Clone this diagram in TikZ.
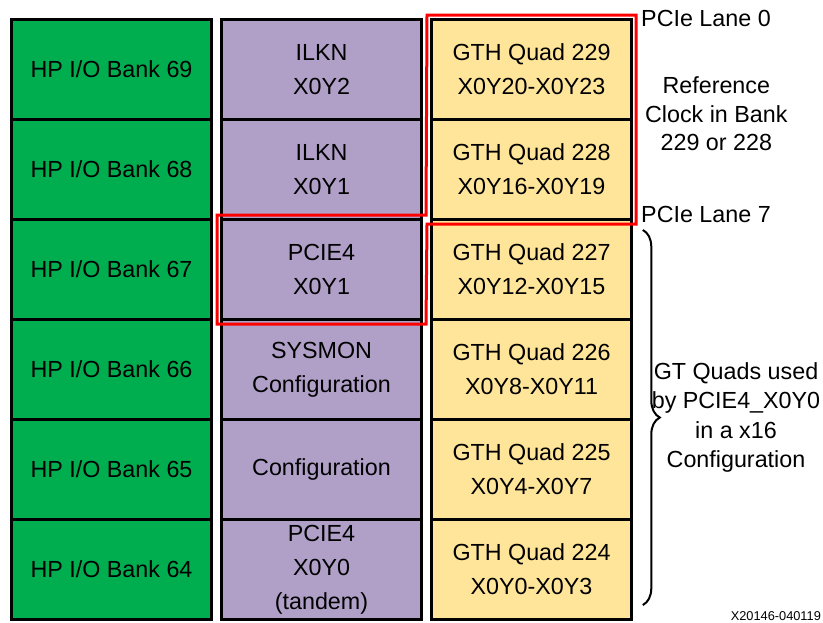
\documentclass[tikz,border=0pt]{standalone}
\usepackage{fontspec}
\setmainfont{Liberation Sans}
\usepackage{tikz}
\usetikzlibrary{positioning,calc,decorations.pathreplacing}
\definecolor{bankgreen}{RGB}{0,173,79}
\definecolor{blkpurple}{RGB}{176,160,200}
\definecolor{quadyellow}{RGB}{255,229,153}
\tikzset{
  cell/.style   ={draw,line width=1.1pt,minimum width=100pt,minimum height=50pt,
                  inner sep=0pt,outer sep=0pt,align=center,
                  font=\fontsize{11.65}{17}\selectfont},
  bank/.style   ={cell,fill=bankgreen},
  blk/.style    ={cell,fill=blkpurple},
  quad/.style   ={cell,fill=quadyellow},
  redline/.style={draw=red,line width=1.5pt},
  lbl/.style    ={font=\fontsize{11.65}{14.3}\selectfont,inner sep=0pt,align=center},
  tag/.style    ={font=\fontsize{6.4}{8}\selectfont,inner sep=0pt},
}

\begin{document}
\begin{tikzpicture}[x=0.5pt,y=-0.5pt,node distance=0pt]
  \useasboundingbox (0,0) rectangle (823,622);
  % I/O banks
  \node[bank] (b69) at (111.5,69.5) {HP I/O Bank 69};
  \node[bank, below=of b69] (b68) {HP I/O Bank 68};
  \node[bank, below=of b68] (b67) {HP I/O Bank 67};
  \node[bank, below=of b67] (b66) {HP I/O Bank 66};
  \node[bank, below=of b66] (b65) {HP I/O Bank 65};
  \node[bank, below=of b65] (b64) {HP I/O Bank 64};
  % hard blocks
  \node[blk, right=5pt of b69] (ilkn2)  {ILKN\\X0Y2};
  \node[blk, below=of ilkn2]   (ilkn1)  {ILKN\\X0Y1};
  \node[blk, below=of ilkn1]   (pcie1)  {PCIE4\\X0Y1};
  \node[blk, below=of pcie1]   (sysmon) {SYSMON\\Configuration};
  \node[blk, below=of sysmon]  (cfg)    {Configuration};
  \node[blk, below=of cfg]     (pcie0)  {PCIE4\\X0Y0\\(tandem)};
  % GTH quads
  \node[quad, right=5pt of ilkn2] (q229) {GTH Quad 229\\X0Y20-X0Y23};
  \node[quad, below=of q229] (q228) {GTH Quad 228\\X0Y16-X0Y19};
  \node[quad, below=of q228] (q227) {GTH Quad 227\\X0Y12-X0Y15};
  \node[quad, below=of q227] (q226) {GTH Quad 226\\X0Y8-X0Y11};
  \node[quad, below=of q226] (q225) {GTH Quad 225\\X0Y4-X0Y7};
  \node[quad, below=of q225] (q224) {GTH Quad 224\\X0Y0-X0Y3};
  % red outline
  \draw[redline] ($(q229.north west)+(-4.5,-4.5)$) -- ($(q229.north east)+(4.5,-4.5)$)
        -- ($(q228.south east)+(4.5,4.5)$) -- ($(q228.south west)+(-4.5,4.5)$)
        -- ($(pcie1.south east)+(4.5,4.5)$) -- ($(pcie1.south west)+(-4.5,4.5)$)
        -- ($(pcie1.north west)+(-4.5,-4.5)$) -- ($(pcie1.north east)+(4.5,-4.5)$)
        -- cycle;
  % labels
  \node[lbl, anchor=base west] (lane0) at ($(q229.north east)+(9.3,6.5)$) {PCIe Lane 0};
  \node[lbl, anchor=base west] (lane7) at ($(q228.south east)+(9.3,2.5)$) {PCIe Lane 7};
  \node[lbl] (refclk) at ($(q229.south east)+(84.8,-5.5)$) {Reference\\Clock in Bank\\229 or 228};
  \draw[decorate,decoration={brace,amplitude=8.5pt},line width=1pt]
        ($(q227.north east)+(11.3,10.5)$) -- ($(q224.south east)+(11.3,-14.5)$)
        node[midway,right=4pt,lbl,font=\fontsize{11.65}{14.6}\selectfont] (gtq)
        {GT Quads used\\by PCIE4\_X0Y0\\in a x16\\Configuration};
  \node[tag, anchor=base east] (fig) at ($(q224.south east)+(189.8,0.5)$) {X20146-040119};
\end{tikzpicture}
\end{document}
